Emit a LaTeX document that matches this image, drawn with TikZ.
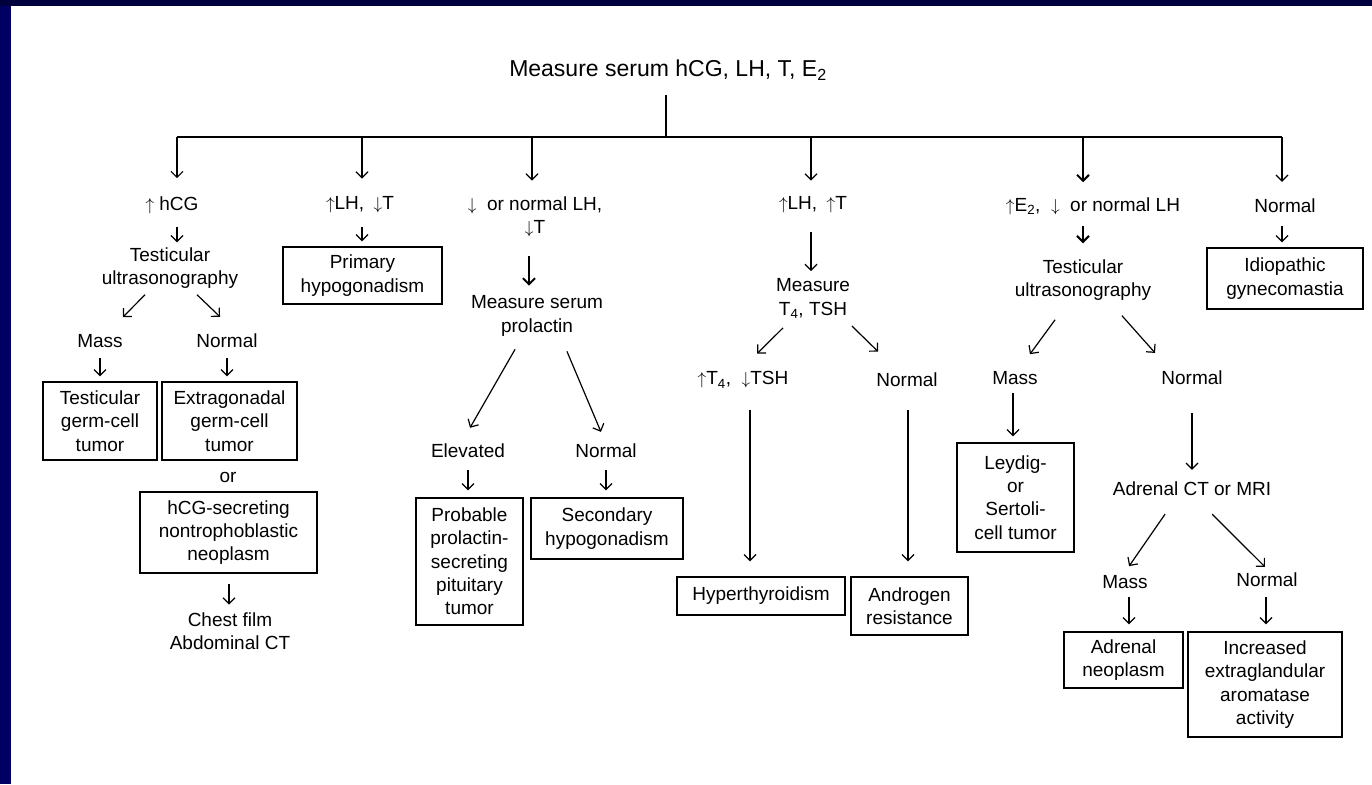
\documentclass[tikz,border=0pt]{standalone}
\usepackage{fontspec}
\setmainfont{Liberation Sans}
\usetikzlibrary{arrows.meta}
\definecolor{slidetop}{HTML}{00003C}
\definecolor{slideside}{HTML}{000062}
\newcommand\lblfont{\fontsize{19}{23.3}\selectfont}
\newcommand\up{$\uparrow$}
\newcommand\dn{$\downarrow$}
\tikzset{
  lbl/.style={font=\lblfont, align=center, inner sep=0pt},
  box/.style={draw, line width=1.3pt, font=\lblfont, align=center, inner sep=2pt},
  arr/.style={-{Straight Barb[length=6pt,width=12pt]}, line width=1.2pt},
  thickarr/.style={arr, line width=2pt},
}
\begin{document}
\begin{tikzpicture}[x=1pt, y=-1pt]
\useasboundingbox (0,0) rectangle (1372,784);

% slide frame
\fill[white] (0,0) rectangle (1372,784);
\fill[slideside] (0,0) rectangle (11,784);
\fill[slidetop] (0,0) rectangle (1372,6);

% first test
\path (668,70) node[lbl, font=\fontsize{23}{27}\selectfont] (measure) {Measure serum hCG, LH, T, E\textsubscript{2}};
\path (177,137) coordinate (dA)
      (362,137) coordinate (dB)
      (532,137) coordinate (dC)
      (811,137) coordinate (dD)
      (1083,137) coordinate (dE)
      (1282,137) coordinate (dF);
\draw[line width=1.2pt, shorten <=15pt] ([xshift=-2pt]measure.south) -- ([xshift=-2pt]measure.south |- dA);
\draw[line width=1.2pt] (dA) -- (dF);

% hCG branch
\path
(172,205) node[lbl] (hcg) {\up\ hCG}
(170,268) node[lbl] (tus1) {Testicular\\ultrasonography}
(100,341) node[lbl] (massA) {Mass}
(227,341) node[lbl] (normA) {Normal}
(100,421) node[box, minimum width=114pt, minimum height=78pt] (tgct) {Testicular\\germ-cell\\tumor}
(229.5,421) node[box, minimum width=135pt, minimum height=78pt] (extra) {Extragonadal\\germ-cell\\tumor}
(228,477) node[lbl] (orA) {or}
(228.5,532.5) node[box, minimum width=177pt, minimum height=81pt] (hcgsec) {hCG-secreting\\nontrophoblastic\\neoplasm}
(230,631.5) node[lbl] (chest) {Chest film\\Abdominal CT};

% high LH, low T
\path
(360,205) node[lbl] (lhlo) {\up LH,\hspace{0.5em}\dn T}
(362.5,275.5) node[box, minimum width=159pt, minimum height=57pt] (prim) {Primary\\hypogonadism};

% low or normal LH
\path
(535,217) node[lbl] (lhnorm) {\dn\ \ or normal LH,\\\dn T}
(537,316) node[lbl] (msp) {Measure serum\\prolactin}
(468,451) node[lbl] (elev) {Elevated}
(606,451) node[lbl] (normC) {Normal}
(469.5,561.5) node[box, minimum width=107pt, minimum height=127pt] (prob) {Probable\\prolactin-\\secreting\\pituitary\\tumor}
(607,528.5) node[box, minimum width=152pt, minimum height=61pt] (sec) {Secondary\\hypogonadism};

% high LH, high T
\path
(813,205) node[lbl] (lhhi) {\up LH,\hspace{0.5em}\up T}
(813,298.5) node[lbl] (mt4) {Measure\\T\textsubscript{4}, TSH}
(743,380) node[lbl] (t4hi) {\up T\textsubscript{4},\ \ \dn TSH}
(907,380) node[lbl] (normD) {Normal}
(761,596) node[box, minimum width=168pt, minimum height=38pt] (hyper) {Hyperthyroidism}
(909.5,606) node[box, minimum width=117pt, minimum height=58pt] (andr) {Androgen\\resistance};

% high E2
\path
(1093,206) node[lbl] (e2) {\up E\textsubscript{2},\ \ \dn\ \ or normal LH}
(1083,280) node[lbl] (tus2) {Testicular\\ultrasonography}
(1015,378) node[lbl] (massE) {Mass}
(1192,378) node[lbl] (normE) {Normal}
(1015.5,497.5) node[box, minimum width=117pt, minimum height=109pt] (leyd) {Leydig-\\or\\Sertoli-\\cell tumor}
(1192,489) node[lbl] (adct) {Adrenal CT or MRI}
(1125,582) node[lbl] (massF) {Mass}
(1267,580) node[lbl] (normF) {Normal}
(1123.5,660) node[box, minimum width=119pt, minimum height=56pt] (adren) {Adrenal\\neoplasm}
(1265,684.5) node[box, minimum width=154pt, minimum height=105pt] (incr) {Increased\\extraglandular\\aromatase\\activity};

% all normal
\path
(1285,206) node[lbl] (normG) {Normal}
(1285,278.5) node[box, minimum width=156pt, minimum height=61pt] (idio) {Idiopathic\\gynecomastia};

% arrows from the bar
\draw[arr, shorten >=18pt] (dA) -- (dA |- hcg.north);
\draw[arr, shorten >=18pt] (dB) -- (dB |- lhlo.north);
\draw[arr, shorten >=16pt] (dC) -- (dC |- lhnorm.north);
\draw[arr, shorten >=16pt] (dD) -- (dD |- lhhi.north);
\draw[thickarr, shorten >=15pt] (dE) -- (dE |- e2.north);
\draw[arr, shorten >=17pt] (dF) -- (dF |- normG.north);

% hCG branch
\draw[arr, shorten <=13pt, shorten >=5pt] ([xshift=5pt]hcg.south) -- ([xshift=7pt]tus1.north);
\draw[arr, shorten <=8.5pt, shorten >=24pt] ([xshift=-19pt]tus1.south) -- ([xshift=6pt]massA.north);
\draw[arr, shorten <=8.7pt, shorten >=24.6pt] ([xshift=20.7pt]tus1.south) -- ([xshift=10.8pt]normA.north);
\draw[arr, shorten <=10pt, shorten >=5pt] (massA.south) -- (tgct.north);
\draw[arr, shorten <=10pt, shorten >=5pt] (normA.south) -- ([xshift=-2.5pt]extra.north);
\draw[arr, shorten <=10pt, shorten >=8pt] ([xshift=0.5pt]hcgsec.south) -- ([xshift=-1pt]chest.north);

% high LH, low T
\draw[arr, shorten <=14pt, shorten >=5pt] ([xshift=2pt]lhlo.south) -- ([xshift=-0.5pt]prim.north);

% low or normal LH
\draw[thickarr, shorten <=19pt, shorten >=10pt] ([xshift=-6pt]lhnorm.south) -- ([xshift=-8pt]msp.north);
\draw[arr, shorten <=15pt, shorten >=18.5pt] ([xshift=-14.5pt]msp.south) -- ([xshift=-7.2pt]elev.north);
\draw[arr, shorten <=16.3pt, shorten >=13pt] ([xshift=23.6pt]msp.south) -- (normC.north);
\draw[arr, shorten <=12pt, shorten >=7pt] (elev.south) -- ([xshift=-1.5pt]prob.north);
\draw[arr, shorten <=12pt, shorten >=7pt] (normC.south) -- ([xshift=-1pt]sec.north);

% high LH, high T
\draw[arr, shorten <=19pt, shorten >=7.5pt] ([xshift=-2pt]lhhi.south) -- ([xshift=-2pt]mt4.north);
\draw[arr, shorten <=13.4pt, shorten >=25.5pt] ([xshift=-20.5pt]mt4.south) -- ([xshift=-4pt]t4hi.north);
\draw[arr, shorten <=10.8pt, shorten >=30.3pt] ([xshift=31.2pt]mt4.south) -- ([xshift=-7.2pt]normD.north);
\draw[arr, shorten <=21pt, shorten >=15pt] ([xshift=7pt]t4hi.south) -- ([xshift=-11pt]hyper.north);
\draw[arr, shorten <=23pt, shorten >=15pt] ([xshift=1pt]normD.south) -- ([xshift=-1.5pt]andr.north);

% high E2
\draw[thickarr, shorten <=11pt, shorten >=16pt] ([xshift=-10pt]e2.south) -- (tus2.north);
\draw[arr, shorten <=23.6pt, shorten >=21pt] ([xshift=-14pt]tus2.south) -- ([xshift=2.5pt]massE.north);
\draw[arr, shorten <=20pt, shorten >=24pt] ([xshift=25.6pt]tus2.south) -- ([xshift=-21pt]normE.north);
\draw[arr, shorten <=8pt, shorten >=6pt] ([xshift=-2pt]massE.south) -- ([xshift=-2.5pt]leyd.north);
\draw[arr, shorten <=28pt, shorten >=12pt] (normE.south) -- (adct.north);
\draw[arr, shorten <=21.9pt, shorten >=11pt] ([xshift=-14.5pt]adct.south) -- ([xshift=-2.2pt]massF.north);
\draw[arr, shorten <=25.5pt, shorten >=8.5pt] ([xshift=2pt]adct.south) -- ([xshift=4pt]normF.north);
\draw[arr, shorten <=8pt, shorten >=7pt] ([xshift=4pt]massF.south) -- ([xshift=5.5pt]adren.north);
\draw[arr, shorten <=10pt, shorten >=7pt] ([xshift=-1pt]normF.south) -- ([xshift=1pt]incr.north);

% all normal
\draw[arr, shorten <=13pt, shorten >=5pt] ([xshift=-3pt]normG.south) -- ([xshift=-3pt]idio.north);

\end{tikzpicture}
\end{document}
